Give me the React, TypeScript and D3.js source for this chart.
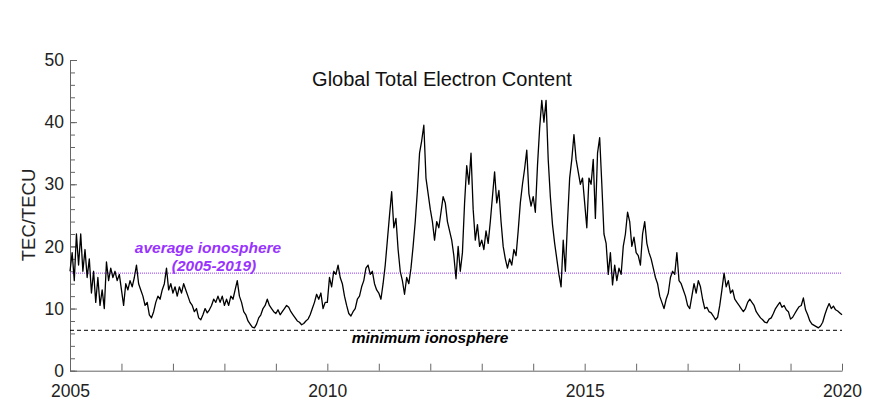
import { useEffect, useRef } from "react";
import * as d3 from "d3";

// daily global TEC, 24 samples per year (half-month steps)
const tec2005 = [16, 19, 14.5, 22, 17, 22, 16, 19.5, 15, 18, 12.5, 16, 11, 15, 10.5, 13, 10, 17.5, 14.5, 16.5, 15, 16, 14.5, 15.5];
const tec2006 = [13, 10.5, 14, 13, 14.5, 13.5, 15, 17, 14, 13, 12, 10.5, 11, 9, 8.5, 9.5, 11, 12, 11.5, 13, 14, 16.5, 13, 14];
const tec2007 = [12.5, 13.5, 12, 13.5, 12.5, 14, 13, 12, 11, 10.5, 9.5, 10, 8.5, 8.2, 9, 10, 9.3, 9.8, 10.5, 11.5, 11, 12, 11, 12];
const tec2008 = [10.5, 11.5, 10.5, 12, 11.5, 13, 14.5, 12, 11, 9.5, 9, 8, 7.5, 7, 6.9, 7.5, 8.5, 9, 10, 10.5, 11.5, 10.5, 10, 9.5];
const tec2009 = [9.2, 9.8, 9, 9.5, 10, 10.5, 10.2, 9.5, 9, 8.5, 8, 7.8, 7.4, 7.6, 8, 8.3, 9, 10, 11, 12.3, 11.5, 12.5, 10, 11];
const tec2010 = [11, 15, 13.5, 16, 15.5, 17, 15, 14, 12, 10.5, 9.2, 8.8, 9.5, 10, 11.5, 12, 13.5, 14.5, 16.5, 17, 15.5, 16, 14, 13];
const tec2011 = [12.5, 11.5, 14, 17, 21, 25, 28.8, 23, 24.5, 19.5, 16, 14.5, 12.3, 15, 14, 16.5, 20, 24, 29, 35, 37, 39.5, 31, 28.5];
const tec2012 = [26, 24, 21, 24, 23, 25.5, 28, 27, 24, 22.5, 21, 18.5, 14.8, 20, 16, 19, 27, 33, 30, 35, 26, 21, 23.5, 20];
const tec2013 = [21, 19.5, 22.5, 20.5, 24, 28, 32, 27, 29, 24, 20, 18, 16.5, 18, 17, 19.5, 18.5, 22.5, 27, 30, 32.5, 35.5, 28.5, 26.5];
const tec2014 = [28, 25.5, 33, 39, 43.5, 40, 43.5, 34, 28, 23.5, 20.5, 18, 15.5, 13.5, 21, 16, 24, 31, 34, 38, 34, 32, 30, 31];
const tec2015 = [27, 23, 31, 30, 34, 24.5, 35, 37.5, 30, 22, 20.5, 15.5, 19, 13.8, 17, 14.5, 16.5, 15.5, 20, 22, 25.5, 24, 20, 21.5];
const tec2016 = [19, 18.5, 17, 22, 24, 20.5, 19, 18, 16.5, 15, 14, 12, 11, 10, 11.5, 12.5, 15, 16, 15.5, 19, 14.5, 14, 13, 12];
const tec2017 = [10.5, 10, 12, 14, 12.5, 14.5, 13.5, 11.5, 10, 10.2, 9.5, 9.3, 8.8, 8.2, 8.6, 10.5, 13, 15.7, 13.5, 14.5, 12.5, 13, 11.5, 11];
const tec2018 = [10.5, 10, 9.5, 10, 11, 11.5, 11, 10.5, 9.5, 9, 8.5, 8.2, 7.8, 7.7, 8.3, 8.5, 9.2, 10, 10.5, 11, 10.2, 10.5, 9.8, 9.5];
const tec2019 = [8.3, 8.6, 9.2, 9.8, 10.3, 10.5, 11.7, 9.8, 9, 8, 7.5, 7.3, 7.1, 6.9, 7.2, 7.8, 9, 10, 10.8, 10, 10.4, 9.8, 9.6, 9.3];
const tecEnd = 9.0;

const years = [2005, 2006, 2007, 2008, 2009, 2010, 2011, 2012, 2013, 2014, 2015, 2016, 2017, 2018, 2019];
const yearTicks = [2005, 2006, 2007, 2008, 2009, 2010, 2011, 2012, 2013, 2014, 2015, 2016, 2017, 2018, 2019, 2020];
const yearLabels = [2005, 2010, 2015, 2020];
const tecTicks = [0, 10, 20, 30, 40, 50];

const averageTec = 15.7;
const minimumTec = 6.5;

const App = () => {
  const ref = useRef(null);

  useEffect(() => {
    const series = [tec2005, tec2006, tec2007, tec2008, tec2009, tec2010, tec2011, tec2012, tec2013, tec2014, tec2015, tec2016, tec2017, tec2018, tec2019];
    const data = [];
    series.forEach((vals, i) => {
      vals.forEach((v, k) => data.push({ t: years[i] + k / vals.length, v }));
    });
    data.push({ t: 2020, v: tecEnd });

    const left = 70, right = 842, top = 60, bottom = 370.7;
    const font = "Liberation Sans, Arial, sans-serif";

    const svg = d3.select(ref.current);
    svg.selectAll("*").remove();

    const x = d3.scaleLinear().domain([2005, 2020]).range([left, right]);
    const y = d3.scaleLinear().domain([0, 50]).range([bottom, top]);

    // minor y ticks
    svg
      .append("g")
      .attr("transform", `translate(${left},0)`)
      .call(d3.axisLeft(y).tickValues(d3.range(0, 51, 2)).tickSizeInner(-5).tickSizeOuter(0).tickFormat(() => ""))
      .call((g) => g.select(".domain").remove())
      .call((g) => g.selectAll("line").attr("stroke", "#666"));

    // major y ticks + labels
    svg
      .append("g")
      .attr("transform", `translate(${left},0)`)
      .call(d3.axisLeft(y).tickValues(tecTicks).tickSizeInner(-7).tickSizeOuter(0).tickPadding(6))
      .call((g) => g.select(".domain").attr("stroke", "#666"))
      .call((g) => g.selectAll("line").attr("stroke", "#666"))
      .call((g) => g.selectAll("text").attr("font-size", 17.5).attr("font-family", font).attr("fill", "#222"));

    svg
      .append("g")
      .attr("transform", `translate(0,${bottom})`)
      .call(
        d3
          .axisBottom(x)
          .tickValues(yearTicks)
          .tickSizeInner(-7)
          .tickSizeOuter(0)
          .tickPadding(14)
          .tickFormat((d) => (yearLabels.includes(d) ? String(d) : ""))
      )
      .call((g) => g.select(".domain").attr("stroke", "#666"))
      .call((g) => g.selectAll("line").attr("stroke", "#666"))
      .call((g) => g.selectAll("text").attr("font-size", 17.5).attr("font-family", font).attr("fill", "#222"));

    // reference levels
    svg
      .append("line")
      .attr("x1", left)
      .attr("x2", right)
      .attr("y1", y(averageTec))
      .attr("y2", y(averageTec))
      .attr("stroke", "#9933ff")
      .attr("stroke-width", 1)
      .attr("stroke-dasharray", "1,1");

    svg
      .append("line")
      .attr("x1", left)
      .attr("x2", right)
      .attr("y1", y(minimumTec))
      .attr("y2", y(minimumTec))
      .attr("stroke", "#000")
      .attr("stroke-width", 1)
      .attr("stroke-dasharray", "4,3");

    const line = d3
      .line()
      .x((d) => x(d.t))
      .y((d) => y(d.v));

    svg
      .append("path")
      .datum(data)
      .attr("fill", "none")
      .attr("stroke", "#000")
      .attr("stroke-width", 1.3)
      .attr("stroke-linejoin", "round")
      .attr("d", line);

    svg
      .append("text")
      .attr("x", 442)
      .attr("y", 86)
      .attr("text-anchor", "middle")
      .attr("font-family", font)
      .attr("font-size", 20)
      .attr("fill", "#111")
      .text("Global Total Electron Content");

    svg
      .append("text")
      .attr("transform", `translate(35,215) rotate(-90)`)
      .attr("text-anchor", "middle")
      .attr("font-family", font)
      .attr("font-size", 18.5)
      .attr("fill", "#222")
      .text("TEC/TECU");

    const notes = svg
      .append("g")
      .attr("font-family", font)
      .attr("font-size", 15.5)
      .attr("font-weight", "bold")
      .attr("font-style", "italic")
      .attr("text-anchor", "middle");

    notes.append("text").attr("x", 208).attr("y", 253).attr("fill", "#9933ff").text("average ionosphere");
    notes.append("text").attr("x", 214).attr("y", 271).attr("fill", "#9933ff").text("(2005-2019)");
    notes.append("text").attr("x", 430).attr("y", 343).attr("fill", "#000").text("minimum ionosphere");
  }, []);

  return (
    <svg
      ref={ref}
      width={883}
      height={413}
      style={{ position: "absolute", left: 0, top: 0, background: "#fff" }}
    />
  );
};

export default App;
